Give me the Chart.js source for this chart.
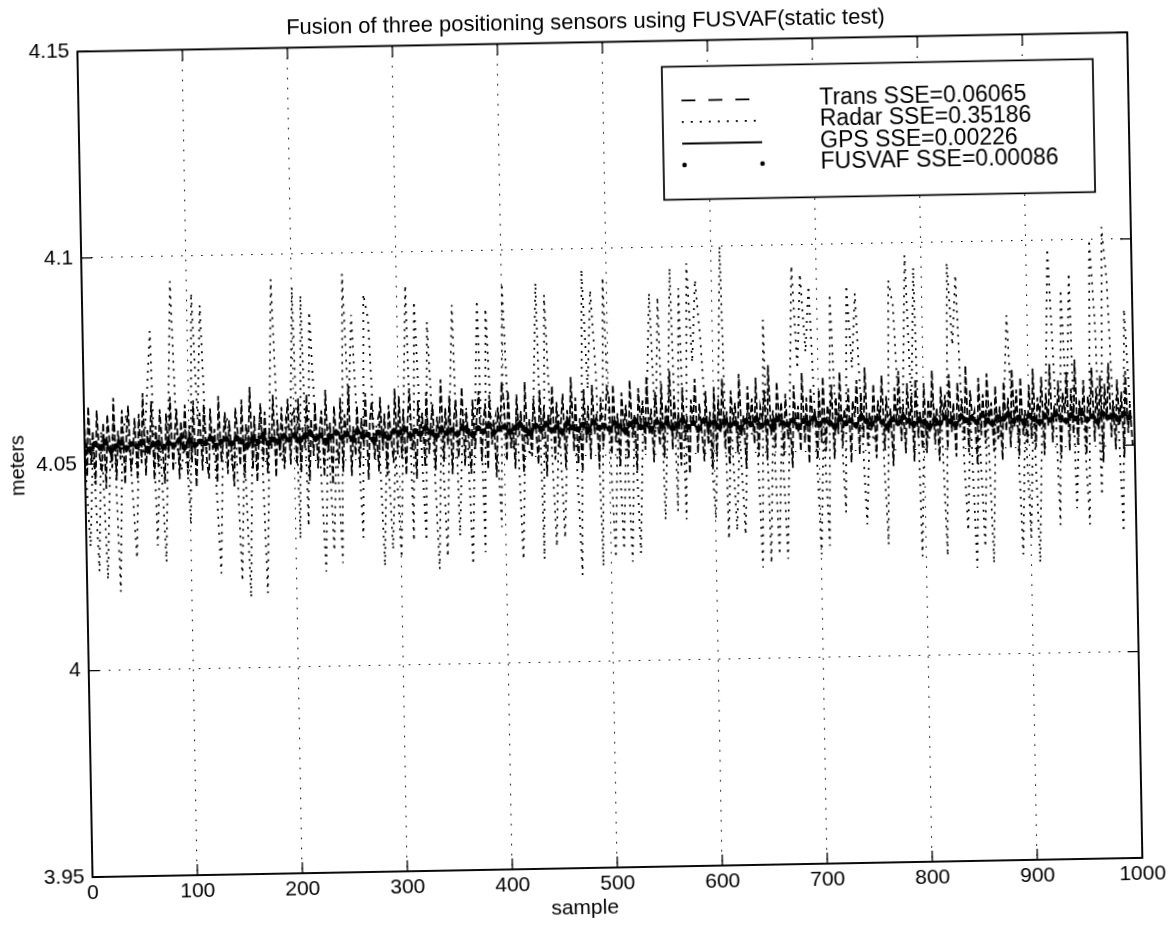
<!DOCTYPE html>
<html><head><meta charset="utf-8">
<script src="https://cdn.jsdelivr.net/npm/chart.js@4.4.1/dist/chart.umd.min.js"></script>
<style>
html,body{margin:0;padding:0;background:#fff;overflow:hidden;width:1170px;height:925px}
#wrap{position:absolute;left:0;top:0;width:1170px;height:925px;transform:rotate(-1.05deg);transform-origin:585px 462px;background:#fff}
canvas{display:block}
</style></head><body>
<div id="wrap"><canvas id="c" width="1170" height="925"></canvas></div>
<script>
const chartTitle = "Fusion of three positioning sensors using FUSVAF(static test)";
const xAxisTitle = "sample";
const yAxisTitle = "meters";
const xTickValues = [0,100,200,300,400,500,600,700,800,900,1000];
const xTickLabels = ["0","100","200","300","400","500","600","700","800","900","1000"];
const yTickValues = [3.95,4.0,4.05,4.1,4.15];
const yTickLabels = ["3.95","4","4.05","4.1","4.15"];
const seriesNames = ["Trans SSE=0.06065","Radar SSE=0.35186","GPS SSE=0.00226","FUSVAF SSE=0.00086"];

// sample spacing of the values
const transStep = 2, radarStep = 4, gpsStep = 5, fusvafStep = 5;

const trans = [
4.061,4.047,4.064,4.050,4.058,4.045,4.063,4.052,4.048,4.060,
4.044,4.062,4.055,4.049,4.066,4.046,4.058,4.051,4.063,4.045,
4.057,4.064,4.048,4.053,4.061,4.046,4.062,4.050,4.067,4.047,
4.058,4.052,4.065,4.046,4.059,4.049,4.063,4.054,4.045,4.062,
4.051,4.066,4.048,4.057,4.063,4.046,4.060,4.053,4.064,4.047,
4.059,4.050,4.065,4.044,4.056,4.062,4.048,4.064,4.051,4.046,
4.063,4.053,4.058,4.045,4.066,4.050,4.055,4.062,4.047,4.060,
4.052,4.044,4.063,4.057,4.049,4.065,4.046,4.059,4.054,4.068,
4.048,4.061,4.045,4.056,4.064,4.050,4.062,4.047,4.058,4.053,
4.066,4.046,4.060,4.051,4.063,4.048,4.057,4.065,4.049,4.061,
4.062,4.049,4.065,4.047,4.058,4.053,4.066,4.045,4.060,4.051,
4.064,4.048,4.057,4.062,4.046,4.067,4.052,4.059,4.044,4.063,
4.055,4.049,4.065,4.047,4.061,4.054,4.068,4.046,4.058,4.051,
4.063,4.048,4.060,4.053,4.066,4.045,4.059,4.064,4.050,4.057,
4.047,4.065,4.052,4.061,4.046,4.063,4.055,4.049,4.067,4.051,
4.065,4.050,4.062,4.046,4.059,4.067,4.052,4.057,4.045,4.064,
4.054,4.061,4.048,4.066,4.051,4.058,4.063,4.047,4.060,4.055,
4.069,4.049,4.062,4.053,4.065,4.046,4.059,4.064,4.050,4.057,
4.067,4.048,4.061,4.054,4.046,4.064,4.052,4.060,4.066,4.049,
4.058,4.063,4.047,4.065,4.053,4.059,4.045,4.062,4.056,4.068,
4.063,4.049,4.066,4.052,4.058,4.047,4.065,4.055,4.061,4.046,
4.068,4.053,4.059,4.050,4.064,4.057,4.048,4.066,4.054,4.062,
4.045,4.060,4.056,4.067,4.049,4.063,4.052,4.058,4.065,4.047,
4.061,4.055,4.069,4.051,4.064,4.048,4.059,4.046,4.066,4.053,
4.062,4.049,4.067,4.055,4.060,4.047,4.064,4.052,4.058,4.066,
4.064,4.050,4.067,4.053,4.060,4.047,4.065,4.056,4.062,4.049,
4.068,4.054,4.059,4.046,4.066,4.057,4.063,4.051,4.069,4.055,
4.061,4.048,4.065,4.058,4.052,4.067,4.049,4.062,4.056,4.070,
4.051,4.064,4.054,4.060,4.047,4.066,4.053,4.059,4.045,4.063,
4.057,4.068,4.050,4.062,4.055,4.048,4.065,4.052,4.060,4.046,
4.066,4.049,4.063,4.055,4.068,4.051,4.060,4.047,4.065,4.057,
4.062,4.050,4.069,4.054,4.059,4.046,4.066,4.056,4.063,4.052,
4.068,4.049,4.061,4.058,4.065,4.048,4.071,4.054,4.060,4.051,
4.067,4.056,4.062,4.049,4.064,4.053,4.058,4.046,4.066,4.055,
4.061,4.050,4.069,4.052,4.063,4.047,4.065,4.057,4.060,4.048,
4.065,4.052,4.068,4.050,4.061,4.057,4.066,4.048,4.063,4.054,
4.069,4.051,4.060,4.056,4.065,4.047,4.062,4.058,4.067,4.049,
4.064,4.053,4.070,4.051,4.059,4.055,4.066,4.048,4.062,4.057,
4.068,4.050,4.063,4.054,4.060,4.046,4.065,4.056,4.069,4.052,
4.061,4.049,4.066,4.055,4.063,4.047,4.067,4.053,4.059,4.050,
4.066,4.049,4.062,4.056,4.069,4.051,4.060,4.047,4.065,4.057,
4.063,4.050,4.068,4.054,4.061,4.048,4.066,4.055,4.062,4.052,
4.070,4.049,4.064,4.057,4.059,4.046,4.067,4.053,4.063,4.051,
4.068,4.056,4.061,4.049,4.065,4.052,4.060,4.047,4.066,4.054,
4.062,4.050,4.069,4.055,4.064,4.048,4.067,4.053,4.059,4.051,
4.065,4.052,4.069,4.050,4.062,4.057,4.067,4.048,4.063,4.055,
4.070,4.051,4.060,4.056,4.066,4.047,4.063,4.058,4.068,4.049,
4.064,4.053,4.071,4.050,4.061,4.055,4.066,4.048,4.062,4.057,
4.069,4.051,4.064,4.054,4.067,4.046,4.065,4.056,4.070,4.052,
4.061,4.049,4.066,4.055,4.063,4.047,4.068,4.053,4.060,4.050
];

const radar = [
4.052,4.030,4.055,4.024,4.058,4.022,4.050,4.060,4.019,4.056,
4.062,4.048,4.027,4.058,4.052,4.066,4.082,4.030,4.055,4.026,
4.060,4.094,4.054,4.048,4.058,4.035,4.091,4.060,4.088,4.052,
4.058,4.050,4.023,4.056,4.061,4.049,4.057,4.021,4.054,4.017,
4.057,4.052,4.062,4.018,4.055,4.094,4.058,4.050,4.060,4.055,
4.092,4.031,4.090,4.034,4.086,4.060,4.052,4.023,4.058,4.028,
4.055,4.025,4.095,4.062,4.085,4.058,4.031,4.090,4.084,4.055,
4.060,4.024,4.057,4.028,4.052,4.026,4.060,4.092,4.030,4.088,
4.058,4.030,4.083,4.055,4.023,4.058,4.026,4.060,4.087,4.031,
4.056,4.062,4.024,4.058,4.088,4.027,4.086,4.055,4.060,4.033,
4.092,4.058,4.052,4.061,4.025,4.056,4.050,4.062,4.092,4.025,
4.089,4.058,4.028,4.060,4.030,4.055,4.062,4.052,4.021,4.095,
4.066,4.090,4.070,4.023,4.093,4.055,4.025,4.058,4.027,4.056,
4.024,4.060,4.026,4.057,4.062,4.089,4.054,4.088,4.034,4.060,
4.095,4.036,4.090,4.034,4.096,4.072,4.092,4.078,4.058,4.052,
4.034,4.062,4.100,4.029,4.058,4.031,4.055,4.030,4.060,4.054,
4.058,4.022,4.082,4.023,4.058,4.025,4.055,4.024,4.060,4.095,
4.070,4.093,4.074,4.090,4.058,4.025,4.056,4.027,4.088,4.055,
4.061,4.035,4.090,4.070,4.088,4.060,4.032,4.056,4.052,4.060,
4.055,4.027,4.091,4.085,4.058,4.062,4.097,4.060,4.094,4.024,
4.058,4.052,4.062,4.055,4.060,4.024,4.095,4.075,4.092,4.056,
4.030,4.058,4.021,4.056,4.026,4.060,4.022,4.057,4.052,4.060,
4.082,4.055,4.060,4.024,4.057,4.028,4.060,4.022,4.055,4.062,
4.098,4.070,4.031,4.088,4.058,4.092,4.035,4.060,4.055,4.031,
4.100,4.080,4.038,4.103,4.090,4.058,4.062,4.029,4.083,4.060
];

const gps = [
4.0552,4.0528,4.0547,4.0535,4.0558,4.0523,4.0544,4.0556,4.0531,4.0549,
4.0538,4.0557,4.0526,4.0545,4.0553,4.0533,4.0550,4.0541,4.0559,4.0530,
4.0561,4.0536,4.0552,4.0544,4.0565,4.0533,4.0550,4.0558,4.0539,4.0563,
4.0546,4.0531,4.0556,4.0549,4.0567,4.0537,4.0554,4.0542,4.0564,4.0548,
4.0566,4.0541,4.0559,4.0573,4.0547,4.0562,4.0538,4.0557,4.0570,4.0549,
4.0563,4.0544,4.0575,4.0552,4.0560,4.0539,4.0568,4.0554,4.0546,4.0571,
4.0558,4.0577,4.0549,4.0566,4.0553,4.0580,4.0560,4.0545,4.0572,4.0556,
4.0568,4.0551,4.0579,4.0562,4.0547,4.0574,4.0559,4.0583,4.0555,4.0569,
4.0576,4.0553,4.0570,4.0585,4.0561,4.0549,4.0578,4.0564,4.0582,4.0556,
4.0571,4.0550,4.0584,4.0566,4.0559,4.0577,4.0554,4.0586,4.0563,4.0572,
4.0557,4.0581,4.0568,4.0550,4.0576,4.0587,4.0562,4.0574,4.0553,4.0583,
4.0566,4.0579,4.0555,4.0571,4.0588,4.0560,4.0575,4.0552,4.0584,4.0569,
4.0577,4.0556,4.0583,4.0563,4.0572,4.0549,4.0580,4.0566,4.0587,4.0558,
4.0574,4.0553,4.0585,4.0569,4.0561,4.0579,4.0551,4.0576,4.0564,4.0586,
4.0559,4.0578,4.0567,4.0550,4.0582,4.0562,4.0575,4.0555,4.0588,4.0570,
4.0557,4.0581,4.0565,4.0548,4.0577,4.0560,4.0584,4.0568,4.0554,4.0573,
4.0561,4.0545,4.0570,4.0556,4.0579,4.0563,4.0551,4.0582,4.0567,4.0574,
4.0558,4.0585,4.0564,4.0552,4.0578,4.0569,4.0587,4.0560,4.0575,4.0555,
4.0580,4.0566,4.0553,4.0577,4.0561,4.0584,4.0571,4.0556,4.0579,4.0565,
4.0588,4.0559,4.0574,4.0552,4.0583,4.0568,4.0576,4.0557,4.0581,4.0564
];

const fusvaf = [
4.0545,4.0536,4.0549,4.0540,4.0552,4.0534,4.0543,4.0550,4.0538,4.0547,
4.0541,4.0551,4.0535,4.0546,4.0549,4.0539,4.0548,4.0543,4.0553,4.0537,
4.0553,4.0542,4.0550,4.0546,4.0557,4.0540,4.0549,4.0555,4.0544,4.0556,
4.0548,4.0539,4.0554,4.0547,4.0559,4.0543,4.0552,4.0546,4.0560,4.0550,
4.0561,4.0550,4.0558,4.0566,4.0552,4.0560,4.0547,4.0557,4.0565,4.0553,
4.0562,4.0551,4.0568,4.0555,4.0559,4.0548,4.0564,4.0556,4.0552,4.0567,
4.0562,4.0571,4.0556,4.0566,4.0559,4.0573,4.0563,4.0554,4.0569,4.0560,
4.0567,4.0557,4.0572,4.0564,4.0556,4.0570,4.0562,4.0575,4.0560,4.0568,
4.0572,4.0561,4.0569,4.0577,4.0564,4.0558,4.0573,4.0566,4.0576,4.0562,
4.0570,4.0559,4.0578,4.0567,4.0563,4.0574,4.0561,4.0579,4.0566,4.0571,
4.0563,4.0576,4.0569,4.0560,4.0573,4.0579,4.0565,4.0572,4.0561,4.0577,
4.0568,4.0575,4.0562,4.0570,4.0580,4.0564,4.0573,4.0560,4.0578,4.0569,
4.0574,4.0563,4.0577,4.0566,4.0571,4.0559,4.0575,4.0568,4.0579,4.0564,
4.0572,4.0561,4.0578,4.0569,4.0565,4.0575,4.0560,4.0573,4.0567,4.0579,
4.0564,4.0574,4.0568,4.0559,4.0576,4.0565,4.0572,4.0561,4.0580,4.0570,
4.0563,4.0576,4.0567,4.0558,4.0573,4.0564,4.0578,4.0569,4.0561,4.0572,
4.0565,4.0556,4.0570,4.0562,4.0575,4.0566,4.0559,4.0577,4.0568,4.0573,
4.0563,4.0579,4.0567,4.0560,4.0574,4.0569,4.0580,4.0564,4.0572,4.0562,
4.0576,4.0568,4.0561,4.0574,4.0565,4.0578,4.0570,4.0563,4.0575,4.0567,
4.0580,4.0564,4.0572,4.0560,4.0577,4.0569,4.0573,4.0563,4.0576,4.0567
];

const FONT = "'Liberation Sans', Arial, Helvetica, sans-serif";
const toPoints = (arr, step) => arr.map((v, i) => ({x: i * step, y: v}));

const framePlugin = {
  id: 'matlabFrame',
  afterLayout(chart) {
    // MATLAB places the title slightly left of the axes centre
    const t = chart.titleBlock;
    if (t) { t.left += 26; t.right += 26; }
  },
  afterDatasetsDraw(chart) {
    const ctx = chart.ctx, a = chart.chartArea;
    const xs = chart.scales.x, ys = chart.scales.y;
    ctx.save();
    // legend box
    const bw = 431, bh = 133;
    const bx = a.right - 35 - bw, by = a.top + 26;
    ctx.fillStyle = '#fff';
    ctx.fillRect(bx, by, bw, bh);
    ctx.strokeStyle = '#000';
    ctx.lineWidth = 1.7;
    ctx.strokeRect(bx, by, bw, bh);
    const lx0 = bx + 19, lx1 = bx + 99, tx = bx + 157;
    const rows = [by + 34, by + 55.5, by + 77, by + 98.5];
    ctx.lineWidth = 1.7;
    ctx.setLineDash([14, 13]);
    ctx.beginPath(); ctx.moveTo(lx0, rows[0]); ctx.lineTo(lx1 - 5, rows[0]); ctx.stroke();
    ctx.setLineDash([2, 7]);
    ctx.beginPath(); ctx.moveTo(lx0, rows[1]); ctx.lineTo(lx1, rows[1]); ctx.stroke();
    ctx.setLineDash([]);
    ctx.lineWidth = 2;
    ctx.beginPath(); ctx.moveTo(lx0, rows[2]); ctx.lineTo(lx1, rows[2]); ctx.stroke();
    ctx.fillStyle = '#000';
    [lx0 + 2, lx1].forEach(px => { ctx.beginPath(); ctx.arc(px, rows[3], 2.3, 0, Math.PI * 2); ctx.fill(); });
    ctx.font = "23px " + FONT;
    ctx.textBaseline = 'middle';
    ctx.textAlign = 'left';
    seriesNames.forEach((t, k) => ctx.fillText(t, tx, rows[k]));
    // frame
    ctx.lineWidth = 1.9;
    ctx.strokeRect(a.left, a.top, a.right - a.left, a.bottom - a.top);
    // inward ticks
    ctx.lineWidth = 1.3;
    const tl = 11;
    xTickValues.forEach(v => {
      const px = xs.getPixelForValue(v);
      ctx.beginPath();
      ctx.moveTo(px, a.bottom); ctx.lineTo(px, a.bottom - tl);
      ctx.moveTo(px, a.top); ctx.lineTo(px, a.top + tl);
      ctx.stroke();
    });
    yTickValues.forEach(v => {
      const py = ys.getPixelForValue(v);
      ctx.beginPath();
      ctx.moveTo(a.left, py); ctx.lineTo(a.left + tl, py);
      ctx.moveTo(a.right, py); ctx.lineTo(a.right - tl, py);
      ctx.stroke();
    });
    // x axis title (MATLAB puts it left of the axes centre)
    ctx.font = "21px " + FONT;
    ctx.textAlign = 'center';
    ctx.fillText(xAxisTitle, (a.left + a.right) / 2 - 33, a.bottom + 40);
    ctx.restore();
  }
};

new Chart(document.getElementById('c'), {
  type: 'line',
  data: {
    datasets: [
      { label: seriesNames[3], data: toPoints(fusvaf, fusvafStep), showLine: false,
        pointRadius: 3, pointBackgroundColor: '#000', pointBorderWidth: 0, borderColor: '#000', order: 0 },
      { label: seriesNames[2], data: toPoints(gps, gpsStep), borderColor: '#000', borderWidth: 2.2,
        pointRadius: 0, tension: 0, order: 1 },
      { label: seriesNames[0], data: toPoints(trans, transStep), borderColor: '#000', borderWidth: 1.7,
        borderDash: [7, 3], pointRadius: 0, tension: 0, order: 2 },
      { label: seriesNames[1], data: toPoints(radar, radarStep), borderColor: '#000', borderWidth: 1.7,
        borderDash: [2, 6], pointRadius: 0, tension: 0, order: 3 }
    ]
  },
  options: {
    responsive: false,
    animation: false,
    events: [],
    parsing: false,
    layout: { padding: { left: 0, right: 35, top: 0, bottom: 0 } },
    plugins: {
      legend: { display: false },
      tooltip: { enabled: false },
      title: { display: true, text: chartTitle, color: '#000',
        font: { family: FONT, size: 22, weight: 'normal' }, padding: { top: 10, bottom: 6 } }
    },
    scales: {
      x: {
        type: 'linear', min: 0, max: 1000,
        afterBuildTicks: s => { s.ticks = xTickValues.map(v => ({ value: v })); },
        afterFit: s => { s.height = 57; },
        ticks: { color: '#000', font: { family: FONT, size: 21 }, padding: 4, maxRotation: 0,
          callback: (v) => xTickLabels[xTickValues.indexOf(v)] },
        grid: { color: '#000', lineWidth: 1.1, drawTicks: false },
        border: { display: false, dash: [1.5, 8.5] }
      },
      y: {
        type: 'linear', min: 3.95, max: 4.15,
        afterBuildTicks: s => { s.ticks = yTickValues.map(v => ({ value: v })); },
        afterFit: s => { s.width = 85; },
        ticks: { color: '#000', font: { family: FONT, size: 21 }, padding: 8,
          callback: (v) => yTickLabels[yTickValues.findIndex(t => Math.abs(t - v) < 1e-6)] },
        grid: { color: '#000', lineWidth: 1.1, drawTicks: false },
        border: { display: false, dash: [1.5, 8.5] },
        title: { display: true, text: yAxisTitle, color: '#000', font: { family: FONT, size: 20 }, padding: { top: 6, bottom: 0 } }
      }
    }
  },
  plugins: [framePlugin]
});
</script>
</body></html>
